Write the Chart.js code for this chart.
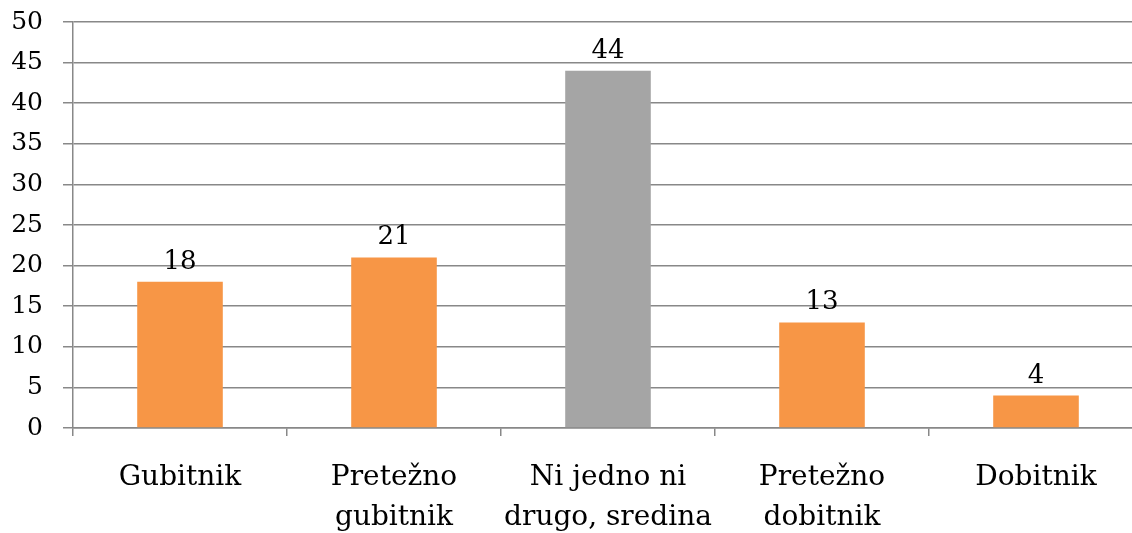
<!DOCTYPE html>
<html>
<head>
<meta charset="utf-8">
<script src="https://cdn.jsdelivr.net/npm/chart.js@4/dist/chart.umd.min.js"></script>
<style>
  html, body { margin: 0; padding: 0; background: #fff; overflow: hidden; }
  #wrap { width: 1143px; height: 533px; }
</style>
</head>
<body>
<div id="wrap"><canvas id="myChart"></canvas></div>
<script>
const categories = [
  "Gubitnik",
  ["Pretežno", "gubitnik"],
  ["Ni jedno ni", "drugo, sredina"],
  ["Pretežno", "dobitnik"],
  "Dobitnik"
];
const values = [18, 21, 44, 13, 4];
const barColors = ["#F79646", "#F79646", "#A5A5A5", "#F79646", "#F79646"];
const yMin = 0, yMax = 50, yStep = 5;

const gridColor = "#888888";
const fontFamily = "'DejaVu Serif', serif";

// draws the numbers above each bar
const valueLabels = {
  id: "valueLabels",
  afterDatasetsDraw(chart) {
    const ctx = chart.ctx;
    const meta = chart.getDatasetMeta(0);
    ctx.save();
    ctx.font = "26px " + fontFamily;
    ctx.fillStyle = "#000";
    ctx.textAlign = "center";
    ctx.textBaseline = "alphabetic";
    meta.data.forEach((bar, i) => {
      ctx.fillText(String(values[i]), bar.x, bar.y - 13);
    });
    ctx.restore();
  }
};

const config = {
  type: "bar",
  data: {
    labels: categories,
    datasets: [{
      data: values,
      backgroundColor: barColors,
      borderWidth: 0,
      categoryPercentage: 0.8,
      barPercentage: 0.5
    }]
  },
  options: {
    responsive: true,
    maintainAspectRatio: false,
    animation: false,
    layout: { padding: { top: 22, right: 0, bottom: 0, left: 0 } },
    plugins: {
      legend: { display: false },
      tooltip: { enabled: false }
    },
    scales: {
      x: {
        grid: {
          offset: true,
          drawOnChartArea: false,
          color: gridColor,
          lineWidth: 1.5,
          tickLength: 8
        },
        border: { color: gridColor, width: 1.5 },
        ticks: {
          color: "#000",
          padding: 21,
          maxRotation: 0,
          autoSkip: false,
          font: { family: fontFamily, size: 28, lineHeight: 1.45 }
        },
        afterFit(axis) { axis.height = 105; }
      },
      y: {
        min: yMin,
        max: yMax,
        grid: {
          color: gridColor,
          lineWidth: 1.5,
          tickLength: 10
        },
        border: { color: gridColor, width: 1.5 },
        ticks: {
          stepSize: yStep,
          color: "#000",
          padding: 20,
          font: { family: fontFamily, size: 25 }
        },
        afterFit(axis) {
          axis.width = 73;
          axis.paddingTop = 0;
          axis.paddingBottom = 0;
        }
      }
    }
  },
  plugins: [valueLabels]
};

var myChart = new Chart(document.getElementById("myChart"), config);
</script>
</body>
</html>
